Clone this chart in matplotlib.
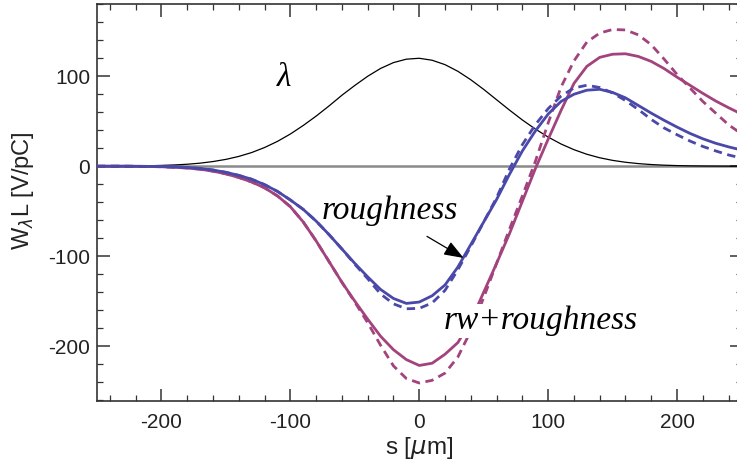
import matplotlib
matplotlib.use("Agg")
import matplotlib.pyplot as plt
from matplotlib.ticker import MultipleLocator

plt.rcParams['font.family'] = ['Liberation Sans', 'DejaVu Sans']
plt.rcParams['axes.unicode_minus'] = False
plt.rcParams['mathtext.fontset'] = 'dejavusans'

# s positions [um]
s = list(range(-250, 251, 10))

# bunch profile lambda
lam = [0.05, 0.1, 0.17, 0.3, 0.5, 0.9, 1.4, 2.2, 3.4, 5.2, 7.6, 10.9, 15.2, 20.8,
       27.6, 35.8, 45.3, 55.7, 67.0, 78.9, 89.8, 100.0, 108.7, 115.2, 119.0, 120.0,
       117.8, 112.9, 105.5, 96.1, 85.4, 73.9, 62.4, 51.4, 41.4, 32.4, 24.7, 18.4,
       13.3, 9.4, 6.5, 4.4, 2.9, 1.85, 1.15, 0.7, 0.4, 0.24, 0.14, 0.08, 0.04]

# roughness wake (solid / dashed)
rough_solid = [0, 0, 0, -0.1, -0.2, -0.4, -0.8, -1.4, -2.5, -4.2, -6.8, -10.2, -14.5,
               -20.5, -28, -37.5, -48, -61, -76, -92, -108, -123, -137, -147, -152.5,
               -151, -144, -132, -112, -87, -62, -37, -9, 17, 39, 58, 72, 80, 84.5,
               85.5, 82, 76, 67.5, 59, 51, 43.5, 36.5, 30.5, 25.5, 21.5, 18]
rough_dash = [0, 0, 0, -0.1, -0.2, -0.4, -0.8, -1.4, -2.5, -4.2, -6.8, -10.2, -14.5,
              -20.5, -28, -37.5, -48, -61, -76, -92, -109, -125, -142, -153, -158.5,
              -158, -152, -138, -115, -89, -62, -35, -3, 24, 46, 64, 78, 87, 90,
              87.5, 81.5, 73, 63, 52, 42.5, 35, 28, 22, 17, 12.5, 9]

# resistive wall + roughness wake (solid / dashed)
rw_solid = [0, 0, 0, -0.1, -0.3, -0.6, -1.1, -2, -3.3, -5.5, -8.5, -12.5, -17.5,
            -24, -33, -45, -62, -83, -106, -129, -150, -170, -189, -204, -215,
            -221.5, -219, -209, -196, -172, -140, -108, -75, -39, -3, 30, 62, 92,
            111, 121, 124.5, 125, 122, 116.5, 108.5, 99, 90, 81, 72.5, 65, 58]
rw_dash = [0, 0, 0, -0.1, -0.3, -0.6, -1.1, -2, -3.3, -5.5, -8.5, -12.5, -17.5,
           -24, -33, -45, -62, -83, -106, -129, -151, -174, -199, -222, -236,
           -241, -238, -230, -212, -183, -146, -108, -70, -33, 5, 48, 88, 117,
           138, 148, 152, 151.5, 146, 135, 119, 102, 87, 72, 59, 46, 36]

blue = '#4a48a8'
mag = '#a3437e'

fig = plt.figure(figsize=(7.37, 4.72), dpi=100)
ax = fig.add_axes([97 / 737, 1 - 401 / 472, (741.5 - 97) / 737, (401 - 4.3) / 472])

ax.axhline(0, color='#8a8a8a', lw=1.8, zorder=1)
ax.plot(s, lam, color='black', lw=0.9, zorder=2)
ax.plot(s, rw_solid, color=mag, lw=2.0, zorder=3)
ax.plot(s, rw_dash, color=mag, lw=2.0, ls=(0, (3, 2)), zorder=3)
ax.plot(s, rough_solid, color=blue, lw=2.0, zorder=4)
ax.plot(s, rough_dash, color=blue, lw=2.0, ls=(0, (3, 2)), zorder=4)

ax.set_xlim(-250, 250)
ax.set_ylim(-261, 180)

ax.xaxis.set_major_locator(MultipleLocator(100))
ax.xaxis.set_minor_locator(MultipleLocator(20))
ax.yaxis.set_major_locator(MultipleLocator(100))
ax.yaxis.set_minor_locator(MultipleLocator(20))
ax.tick_params(which='both', direction='in', top=True, right=True,
               color='#333333', labelsize=15, labelcolor='#222222')
ax.tick_params(which='major', length=9, width=1.1)
ax.tick_params(which='minor', length=4.5, width=0.9)
ax.tick_params(axis='x', which='major', pad=9)
ax.tick_params(axis='y', which='major', pad=5)
for sp in ax.spines.values():
    sp.set_color('#333333')
    sp.set_linewidth(1.2)

ax.set_xlabel(r's [$\mu$m]', fontsize=17.5, color='#222222', labelpad=2)
ax.set_ylabel(r'W$_\lambda$L [V/pC]', fontsize=17, color='#222222')
ax.yaxis.set_label_coords(-0.094, 0.53)

serif = ['Liberation Serif', 'DejaVu Serif']
ax.text(-105, 98, 'λ', fontsize=24, family=serif, style='italic',
        ha='center', va='center')
ax.text(-23, -49, 'roughness', fontsize=24, family=serif, style='italic',
        ha='center', va='center', zorder=6)
ax.text(94, -172, 'rw+roughness', fontsize=24, family=serif, style='italic',
        ha='center', va='center', zorder=6,
        bbox=dict(facecolor='white', edgecolor='none', pad=1))
ax.annotate('', xy=(34.4, -102), xytext=(6, -78),
            arrowprops=dict(arrowstyle='-|>,head_length=1.2,head_width=0.45',
                            color='black', lw=0.9, shrinkA=0, shrinkB=0), zorder=6)

fig.savefig('out.png', dpi=100)
